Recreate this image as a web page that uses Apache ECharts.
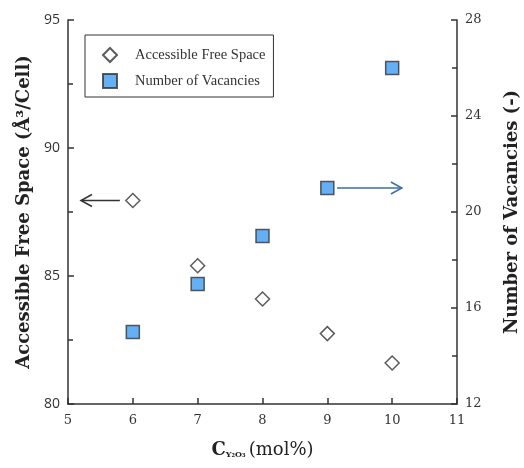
<!DOCTYPE html>
<html>
<head>
<meta charset="utf-8">
<script src="https://cdn.jsdelivr.net/npm/echarts@6/dist/echarts.min.js"></script>
<style>
  html, body { margin: 0; padding: 0; background: #fff; }
  #chart { width: 524px; height: 468px; }
</style>
</head>
<body>
<div id="chart"></div>
<script>
// data
const concentration = [6, 7, 8, 9, 10]
const freeSpace = [87.95, 85.4, 84.1, 82.75, 81.6]
const vacancies = [15, 17, 19, 21, 26]

// arrow annotations: [x0, y0, x1, y1] in data units (left / right axis)
const leftArrow = [5.8, 87.95, 5.2, 87.95]
const rightArrow = [9.15, 21, 10.15, 21]

const serif = '"DejaVu Serif", "Liberation Serif", serif'
const times = '"Liberation Serif", serif'
const sans = '"Open Sans", "Liberation Sans", sans-serif'

const chart = echarts.init(document.getElementById('chart'))

const axisLine = { show: true, lineStyle: { color: '#333', width: 1.5 } }

chart.setOption({
  animation: false,
  grid: { left: 68, right: 67, top: 20, bottom: 64, outerBoundsMode: 'none' },
  legend: {
    orient: 'vertical',
    left: 85,
    top: 35,
    padding: [12, 8, 8, 17],
    itemWidth: 14,
    itemHeight: 14,
    itemGap: 10,
    borderColor: '#333',
    borderWidth: 1,
    textStyle: { fontFamily: times, fontSize: 14.5, color: '#333', padding: [0, 0, 0, 13] },
    data: [
      { name: 'Accessible Free Space', icon: 'diamond' },
      { name: 'Number of Vacancies', icon: 'rect' }
    ]
  },
  xAxis: {
    type: 'value',
    min: 5,
    max: 11,
    interval: 1,
    splitLine: { show: false },
    axisLine: axisLine,
    axisTick: { inside: true, length: 6, lineStyle: { color: '#333', width: 1.5 } },
    axisLabel: { fontFamily: serif, fontSize: 13, color: '#333', margin: 10 },
    name: '{c|C}{s|Y\u2082O\u2083} {n|(mol%)}',
    nameLocation: 'middle',
    nameGap: 37,
    nameTextStyle: {
      rich: {
        c: { fontFamily: serif, fontWeight: 'bold', fontSize: 18, color: '#222' },
        s: { fontFamily: serif, fontWeight: 'bold', fontSize: 8, color: '#222', verticalAlign: 'bottom', padding: [10, 0, 0, 0] },
        n: { fontFamily: serif, fontSize: 18, color: '#222' }
      }
    }
  },
  yAxis: [
    {
      type: 'value',
      min: 80,
      max: 95,
      interval: 5,
      splitLine: { show: false },
      axisLine: axisLine,
      axisTick: { inside: true, length: 6, lineStyle: { color: '#333', width: 1.5 } },
      minorTick: { show: true, splitNumber: 2, length: 5, lineStyle: { color: '#333', width: 1.5 } },
      axisLabel: { fontFamily: sans, fontSize: 14, color: '#333', margin: 8 },
      name: 'Accessible Free Space (\u00c5\u00b3/Cell)',
      nameLocation: 'middle',
      nameGap: 35,
      nameTextStyle: { fontFamily: serif, fontWeight: 'bold', fontSize: 18, color: '#222' }
    },
    {
      type: 'value',
      min: 12,
      max: 28,
      interval: 4,
      position: 'right',
      splitLine: { show: false },
      axisLine: axisLine,
      axisTick: { inside: true, length: 6, lineStyle: { color: '#333', width: 1.5 } },
      minorTick: { show: true, splitNumber: 2, length: 5, lineStyle: { color: '#333', width: 1.5 } },
      axisLabel: { fontFamily: serif, fontSize: 13, color: '#333', margin: 8 },
      name: 'Number of Vacancies (-)',
      nameLocation: 'middle',
      nameGap: 46,
      nameRotate: 90,
      nameTextStyle: { fontFamily: serif, fontWeight: 'bold', fontSize: 18, color: '#222' }
    }
  ],
  series: [
    {
      name: 'Accessible Free Space',
      type: 'scatter',
      yAxisIndex: 0,
      symbol: 'diamond',
      symbolSize: 14,
      itemStyle: { color: '#fff', borderColor: '#333', borderWidth: 1.5 },
      data: concentration.map((c, i) => [c, freeSpace[i]])
    },
    {
      name: 'Number of Vacancies',
      type: 'scatter',
      yAxisIndex: 1,
      symbol: 'rect',
      symbolSize: 13,
      itemStyle: { color: '#3f9bf2', borderColor: '#333', borderWidth: 1.5 },
      data: concentration.map((c, i) => [c, vacancies[i]])
    }
  ]
})

// arrows drawn on top once the scales exist
function arrow(pts, yAxisIndex, color) {
  const a = chart.convertToPixel({ xAxisIndex: 0, yAxisIndex: yAxisIndex }, [pts[0], pts[1]])
  const b = chart.convertToPixel({ xAxisIndex: 0, yAxisIndex: yAxisIndex }, [pts[2], pts[3]])
  const dir = b[0] > a[0] ? 1 : -1
  return [
    { type: 'line', shape: { x1: a[0], y1: a[1], x2: b[0], y2: b[1] }, style: { stroke: color, lineWidth: 1.5 } },
    {
      type: 'polyline',
      shape: { points: [[b[0] - dir * 11, b[1] - 6], [b[0], b[1]], [b[0] - dir * 11, b[1] + 6]] },
      style: { stroke: color, lineWidth: 1.5, fill: null }
    }
  ]
}

chart.setOption({
  graphic: [...arrow(leftArrow, 0, '#333'), ...arrow(rightArrow, 1, '#3b6fa8')]
})
</script>
</body>
</html>
